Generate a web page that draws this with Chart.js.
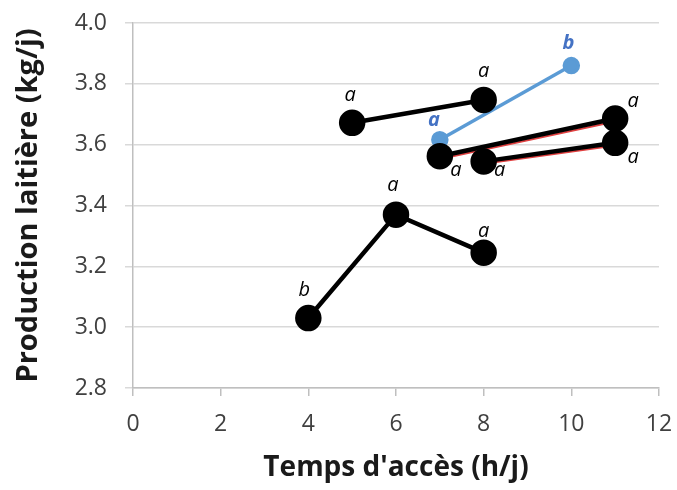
<!DOCTYPE html>
<html><head><meta charset="utf-8">
<script src="https://cdn.jsdelivr.net/npm/chart.js@4"></script>
<style>html,body{margin:0;padding:0;background:#fff}#w{width:677px;height:490px}</style>
</head><body><div id="w"><canvas id="c"></canvas></div>
<script>
// ---- data ----
const xTicks = [0, 2, 4, 6, 8, 10, 12];
const yTicks = [2.8, 3.0, 3.2, 3.4, 3.6, 3.8, 4.0];

const serieA_x = [4, 6, 8];
const serieA_y = [3.03, 3.37, 3.245];
const serieA_lettres = ['b', 'a', 'a'];

const serieB_x = [5, 8];
const serieB_y = [3.672, 3.747];
const serieB_lettres = ['a', 'a'];

const serieBleue_x = [7, 10];
const serieBleue_y = [3.616, 3.86];
const serieBleue_lettres = ['a', 'b'];

const serieC_x = [7, 11];
const serieC_y = [3.562, 3.686];
const serieC_lettres = ['a', 'a'];

const serieD_x = [8, 11];
const serieD_y = [3.545, 3.606];
const serieD_lettres = ['a', 'a'];

const serieRougeC_y = [3.553, 3.676];
const serieRougeD_y = [3.537, 3.597];

const pts = (xs, ys) => xs.map((x, i) => ({x: x, y: ys[i]}));

const letterPlugin = {
  id: 'letters',
  afterDatasetsDraw(chart) {
    const ctx = chart.ctx;
    chart.data.datasets.forEach((ds, di) => {
      if (!ds.letters) return;
      const meta = chart.getDatasetMeta(di);
      ctx.save();
      ctx.font = ds.letterFont || 'italic 20px "Open Sans"';
      ctx.fillStyle = ds.letterColor || '#000';
      ctx.textAlign = 'center';
      ctx.textBaseline = 'middle';
      meta.data.forEach((el, i) => {
        const o = ds.letterOffsets[i];
        ctx.fillText(ds.letters[i], el.x + o[0], el.y + o[1]);
      });
      ctx.restore();
    });
  }
};

const noPad = s => { s.paddingTop = 0; s.paddingBottom = 0; s.paddingLeft = 0; s.paddingRight = 0; };

const black = '#000000';
new Chart(document.getElementById('c'), {
  type: 'scatter',
  data: {
    datasets: [
      {data: pts(serieC_x, serieRougeC_y), showLine: true, borderColor: '#e04040', borderWidth: 2, pointRadius: 0, order: 10},
      {data: pts(serieD_x, serieRougeD_y), showLine: true, borderColor: '#e04040', borderWidth: 2, pointRadius: 0, order: 10},
      {data: pts(serieBleue_x, serieBleue_y), showLine: true, borderColor: '#5b9bd5', backgroundColor: '#5b9bd5', borderWidth: 3.5, pointRadius: 7, pointHoverRadius: 7, order: 5,
        letters: serieBleue_lettres, letterColor: '#4472c4', letterFont: 'italic bold 20px "Open Sans"', letterOffsets: [[-6, -20], [-3, -22]]},
      {data: pts(serieA_x, serieA_y), showLine: true, borderColor: black, backgroundColor: black, borderWidth: 4.5, pointRadius: 11, pointHoverRadius: 11, order: 1,
        letters: serieA_lettres, letterOffsets: [[-4, -28], [-3, -29], [0, -21]]},
      {data: pts(serieB_x, serieB_y), showLine: true, borderColor: black, backgroundColor: black, borderWidth: 4.5, pointRadius: 11, pointHoverRadius: 11, order: 1,
        letters: serieB_lettres, letterOffsets: [[-2, -27], [0, -29]]},
      {data: pts(serieC_x, serieC_y), showLine: true, borderColor: black, backgroundColor: black, borderWidth: 4.5, pointRadius: 11, pointHoverRadius: 11, order: 2,
        letters: serieC_lettres, letterOffsets: [[16, 14], [18, -17]]},
      {data: pts(serieD_x, serieD_y), showLine: true, borderColor: black, backgroundColor: black, borderWidth: 4.5, pointRadius: 11, pointHoverRadius: 11, order: 2,
        letters: serieD_lettres, letterOffsets: [[16, 9], [18, 14]]}
    ]
  },
  options: {
    responsive: true,
    maintainAspectRatio: false,
    animation: false,
    events: [],
    layout: {padding: {left: 0, right: 18, top: 23, bottom: 0}},
    plugins: {legend: {display: false}, tooltip: {enabled: false}},
    scales: {
      x: {
        type: 'linear', min: 0, max: 12,
        afterBuildTicks: s => { s.ticks = xTicks.map(v => ({value: v})); },
        afterFit: s => { s.height = 102; noPad(s); },
        ticks: {color: '#404040', font: {family: 'Open Sans', size: 23}, padding: 15},
        grid: {drawOnChartArea: false, drawTicks: true, tickLength: 8, color: '#bfbfbf', lineWidth: 1.5},
        border: {color: '#bfbfbf', width: 1.5},
        title: {display: true, text: "Temps d'accès (h/j)", color: '#1a1a1a', font: {family: 'Open Sans', size: 28, weight: 'bold'}, padding: {top: 0, bottom: 5}}
      },
      y: {
        type: 'linear', min: 2.8, max: 4.0,
        afterBuildTicks: s => { s.ticks = yTicks.map(v => ({value: v})); },
        afterFit: s => { s.width = 133; noPad(s); },
        ticks: {color: '#404040', font: {family: 'Open Sans', size: 23}, padding: 18, callback: v => v.toFixed(1)},
        grid: {color: '#d9d9d9', lineWidth: 1.5, tickLength: 8, drawTicks: true},
        border: {color: '#bfbfbf', width: 1.5},
        title: {display: true, text: 'Production laitière (kg/j)', color: '#1a1a1a', font: {family: 'Open Sans', size: 29, weight: 'bold'}, padding: {top: 11, bottom: 0}}
      }
    }
  },
  plugins: [letterPlugin]
});
</script></body></html>
